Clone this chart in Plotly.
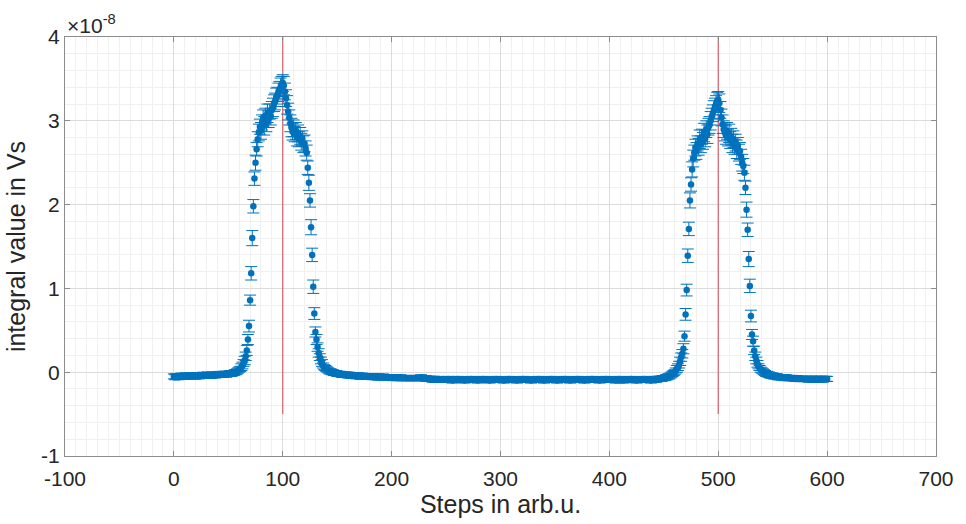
import plotly.graph_objects as go

# Measurement steps (arb.u.)
steps = list(range(0, 601))

# Integral value per step, in units of 1e-8 Vs (ten steps per row)
integral = [
    -0.05, -0.06, -0.05, -0.05, -0.06, -0.05, -0.05, -0.04, -0.05, -0.05,
    -0.05, -0.04, -0.05, -0.05, -0.04, -0.05, -0.04, -0.05, -0.04, -0.04,
    -0.05, -0.04, -0.04, -0.05, -0.04, -0.04, -0.04, -0.03, -0.04, -0.04,
    -0.04, -0.03, -0.04, -0.04, -0.03, -0.04, -0.03, -0.03, -0.04, -0.03,
    -0.03, -0.03, -0.03, -0.02, -0.03, -0.03, -0.02, -0.02, -0.03, -0.02,
    -0.02, -0.02, -0.01, -0.02, -0.01, -0.01, 0.00, 0.00, 0.01, 0.02,
    0.03, 0.04, 0.06, 0.08, 0.11, 0.14, 0.19, 0.26, 0.39, 0.55,
    0.86, 1.18, 1.60, 1.98, 2.31, 2.50, 2.66, 2.78, 2.86, 2.93,
    2.88, 2.98, 3.03, 2.94, 3.06, 2.97, 3.09, 3.02, 3.11, 3.05,
    3.13, 3.16, 3.21, 3.23, 3.28, 3.30, 3.34, 3.37, 3.40, 3.43,
    3.45, 3.42, 3.35, 3.27, 3.19, 3.11, 3.04, 2.97, 2.92, 2.87,
    2.91, 2.84, 2.88, 2.81, 2.85, 2.78, 2.82, 2.75, 2.79, 2.72,
    2.73, 2.67, 2.62, 2.44, 2.26, 2.05, 1.73, 1.40, 1.02, 0.70,
    0.48, 0.39, 0.30, 0.23, 0.18, 0.14, 0.11, 0.08, 0.06, 0.05,
    0.04, 0.03, 0.02, 0.01, 0.01, 0.00, 0.00, -0.01, -0.01, -0.01,
    -0.02, -0.02, -0.02, -0.02, -0.03, -0.03, -0.03, -0.03, -0.03, -0.03,
    -0.04, -0.03, -0.04, -0.04, -0.04, -0.04, -0.04, -0.04, -0.05, -0.04,
    -0.04, -0.05, -0.05, -0.04, -0.05, -0.05, -0.05, -0.05, -0.05, -0.05,
    -0.05, -0.05, -0.05, -0.06, -0.05, -0.05, -0.06, -0.05, -0.06, -0.06,
    -0.06, -0.06, -0.05, -0.06, -0.06, -0.06, -0.06, -0.06, -0.06, -0.06,
    -0.06, -0.07, -0.06, -0.06, -0.07, -0.06, -0.07, -0.07, -0.06, -0.07,
    -0.07, -0.07, -0.07, -0.07, -0.07, -0.07, -0.07, -0.07, -0.07, -0.07,
    -0.07, -0.07, -0.07, -0.07, -0.07, -0.07, -0.07, -0.06, -0.07, -0.07,
    -0.07, -0.07, -0.08, -0.08, -0.08, -0.08, -0.08, -0.08, -0.09, -0.08,
    -0.09, -0.09, -0.09, -0.08, -0.09, -0.09, -0.09, -0.09, -0.09, -0.09,
    -0.09, -0.09, -0.08, -0.09, -0.09, -0.09, -0.10, -0.09, -0.09, -0.09,
    -0.09, -0.08, -0.09, -0.09, -0.09, -0.09, -0.09, -0.10, -0.09, -0.09,
    -0.09, -0.09, -0.09, -0.08, -0.09, -0.09, -0.09, -0.09, -0.09, -0.10,
    -0.09, -0.09, -0.09, -0.09, -0.08, -0.09, -0.09, -0.09, -0.09, -0.09,
    -0.10, -0.09, -0.09, -0.09, -0.09, -0.09, -0.08, -0.09, -0.09, -0.09,
    -0.09, -0.09, -0.09, -0.10, -0.09, -0.09, -0.09, -0.09, -0.08, -0.09,
    -0.09, -0.09, -0.09, -0.09, -0.09, -0.10, -0.09, -0.09, -0.09, -0.09,
    -0.09, -0.08, -0.09, -0.09, -0.09, -0.09, -0.09, -0.09, -0.10, -0.09,
    -0.09, -0.09, -0.09, -0.09, -0.09, -0.08, -0.09, -0.09, -0.09, -0.09,
    -0.10, -0.09, -0.09, -0.09, -0.09, -0.09, -0.09, -0.08, -0.09, -0.09,
    -0.09, -0.09, -0.10, -0.09, -0.09, -0.09, -0.09, -0.09, -0.09, -0.08,
    -0.09, -0.09, -0.09, -0.09, -0.10, -0.09, -0.09, -0.09, -0.09, -0.09,
    -0.09, -0.08, -0.09, -0.09, -0.09, -0.09, -0.09, -0.10, -0.09, -0.09,
    -0.09, -0.09, -0.09, -0.09, -0.08, -0.09, -0.09, -0.09, -0.09, -0.09,
    -0.09, -0.10, -0.09, -0.09, -0.09, -0.09, -0.09, -0.08, -0.09, -0.09,
    -0.09, -0.09, -0.09, -0.09, -0.09, -0.09, -0.10, -0.09, -0.09, -0.08,
    -0.09, -0.09, -0.09, -0.10, -0.09, -0.09, -0.09, -0.09, -0.09, -0.09,
    -0.08, -0.09, -0.09, -0.09, -0.09, -0.10, -0.09, -0.09, -0.09, -0.09,
    -0.09, -0.09, -0.08, -0.09, -0.09, -0.09, -0.09, -0.09, -0.10, -0.09,
    -0.09, -0.09, -0.08, -0.09, -0.08, -0.08, -0.08, -0.08, -0.08, -0.07,
    -0.07, -0.07, -0.06, -0.06, -0.05, -0.05, -0.04, -0.03, -0.02, -0.01,
    0.00, 0.02, 0.04, 0.06, 0.09, 0.13, 0.18, 0.22, 0.28, 0.43,
    0.69, 0.98, 1.39, 1.71, 2.05, 2.24, 2.42, 2.55, 2.62, 2.68,
    2.64, 2.73, 2.69, 2.78, 2.72, 2.81, 2.76, 2.86, 2.79, 2.90,
    2.84, 2.93, 2.95, 3.00, 3.05, 3.09, 3.13, 3.17, 3.20, 3.23,
    3.25, 3.21, 3.13, 3.04, 2.96, 2.90, 2.86, 2.83, 2.88, 2.80,
    2.85, 2.77, 2.81, 2.73, 2.78, 2.69, 2.74, 2.66, 2.70, 2.62,
    2.64, 2.57, 2.50, 2.46, 2.38, 2.20, 1.94, 1.70, 1.35, 1.03,
    0.67, 0.45, 0.37, 0.26, 0.19, 0.14, 0.10, 0.07, 0.05, 0.03,
    0.02, 0.01, 0.00, -0.01, -0.02, -0.02, -0.03, -0.03, -0.04, -0.04,
    -0.04, -0.05, -0.05, -0.05, -0.05, -0.06, -0.06, -0.06, -0.06, -0.06,
    -0.06, -0.07, -0.06, -0.07, -0.07, -0.07, -0.07, -0.07, -0.07, -0.07,
    -0.07, -0.08, -0.07, -0.08, -0.08, -0.08, -0.08, -0.08, -0.08, -0.08,
    -0.08, -0.08, -0.08, -0.09, -0.08, -0.08, -0.08, -0.08, -0.09, -0.08,
    -0.08, -0.08, -0.09, -0.08, -0.08, -0.08, -0.09, -0.08, -0.08, -0.08,
    -0.08,
]

# Standard error of each integral value, in units of 1e-8 Vs (ten steps per row)
integral_err = [
    # steps 0-59
    0.03, 0.03, 0.03, 0.03, 0.03, 0.03, 0.03, 0.03, 0.03, 0.03,
    0.03, 0.03, 0.03, 0.03, 0.03, 0.03, 0.03, 0.03, 0.03, 0.03,
    0.03, 0.03, 0.03, 0.03, 0.03, 0.03, 0.03, 0.03, 0.03, 0.03,
    0.03, 0.03, 0.03, 0.03, 0.03, 0.03, 0.03, 0.03, 0.03, 0.03,
    0.03, 0.03, 0.03, 0.03, 0.03, 0.03, 0.03, 0.03, 0.03, 0.03,
    0.03, 0.03, 0.03, 0.03, 0.03, 0.03, 0.03, 0.03, 0.03, 0.03,
    # steps 60-139
    0.03, 0.03, 0.04, 0.04, 0.04, 0.05, 0.05, 0.06, 0.06, 0.07,
    0.06, 0.08, 0.09, 0.08, 0.08, 0.09, 0.08, 0.09, 0.10, 0.09,
    0.10, 0.09, 0.10, 0.11, 0.09, 0.10, 0.11, 0.10, 0.09, 0.10,
    0.10, 0.11, 0.10, 0.10, 0.11, 0.10, 0.11, 0.10, 0.11, 0.10,
    0.10, 0.11, 0.10, 0.10, 0.11, 0.10, 0.09, 0.10, 0.11, 0.10,
    0.10, 0.09, 0.10, 0.11, 0.10, 0.09, 0.10, 0.10, 0.09, 0.10,
    0.10, 0.09, 0.09, 0.08, 0.09, 0.08, 0.09, 0.08, 0.08, 0.07,
    0.06, 0.06, 0.05, 0.05, 0.04, 0.04, 0.04, 0.03, 0.03, 0.03,
    # steps 140-299
    0.03, 0.03, 0.03, 0.03, 0.03, 0.03, 0.03, 0.03, 0.03, 0.03,
    0.03, 0.03, 0.03, 0.03, 0.03, 0.03, 0.03, 0.03, 0.03, 0.03,
    0.03, 0.03, 0.03, 0.03, 0.03, 0.03, 0.03, 0.03, 0.03, 0.03,
    0.03, 0.03, 0.03, 0.03, 0.03, 0.03, 0.03, 0.03, 0.03, 0.03,
    0.03, 0.03, 0.03, 0.03, 0.03, 0.03, 0.03, 0.03, 0.03, 0.03,
    0.03, 0.03, 0.03, 0.03, 0.03, 0.03, 0.03, 0.03, 0.03, 0.03,
    0.03, 0.03, 0.03, 0.03, 0.03, 0.03, 0.03, 0.03, 0.03, 0.03,
    0.03, 0.03, 0.03, 0.03, 0.03, 0.03, 0.03, 0.03, 0.03, 0.03,
    0.03, 0.03, 0.03, 0.03, 0.03, 0.03, 0.03, 0.03, 0.03, 0.03,
    0.03, 0.03, 0.03, 0.03, 0.03, 0.03, 0.03, 0.03, 0.03, 0.03,
    0.03, 0.03, 0.03, 0.03, 0.03, 0.03, 0.03, 0.03, 0.03, 0.03,
    0.03, 0.03, 0.03, 0.03, 0.03, 0.03, 0.03, 0.03, 0.03, 0.03,
    0.03, 0.03, 0.03, 0.03, 0.03, 0.03, 0.03, 0.03, 0.03, 0.03,
    0.03, 0.03, 0.03, 0.03, 0.03, 0.03, 0.03, 0.03, 0.03, 0.03,
    0.03, 0.03, 0.03, 0.03, 0.03, 0.03, 0.03, 0.03, 0.03, 0.03,
    0.03, 0.03, 0.03, 0.03, 0.03, 0.03, 0.03, 0.03, 0.03, 0.03,
    # steps 300-459
    0.03, 0.03, 0.03, 0.03, 0.03, 0.03, 0.03, 0.03, 0.03, 0.03,
    0.03, 0.03, 0.03, 0.03, 0.03, 0.03, 0.03, 0.03, 0.03, 0.03,
    0.03, 0.03, 0.03, 0.03, 0.03, 0.03, 0.03, 0.03, 0.03, 0.03,
    0.03, 0.03, 0.03, 0.03, 0.03, 0.03, 0.03, 0.03, 0.03, 0.03,
    0.03, 0.03, 0.03, 0.03, 0.03, 0.03, 0.03, 0.03, 0.03, 0.03,
    0.03, 0.03, 0.03, 0.03, 0.03, 0.03, 0.03, 0.03, 0.03, 0.03,
    0.03, 0.03, 0.03, 0.03, 0.03, 0.03, 0.03, 0.03, 0.03, 0.03,
    0.03, 0.03, 0.03, 0.03, 0.03, 0.03, 0.03, 0.03, 0.03, 0.03,
    0.03, 0.03, 0.03, 0.03, 0.03, 0.03, 0.03, 0.03, 0.03, 0.03,
    0.03, 0.03, 0.03, 0.03, 0.03, 0.03, 0.03, 0.03, 0.03, 0.03,
    0.03, 0.03, 0.03, 0.03, 0.03, 0.03, 0.03, 0.03, 0.03, 0.03,
    0.03, 0.03, 0.03, 0.03, 0.03, 0.03, 0.03, 0.03, 0.03, 0.03,
    0.03, 0.03, 0.03, 0.03, 0.03, 0.03, 0.03, 0.03, 0.03, 0.03,
    0.03, 0.03, 0.03, 0.03, 0.03, 0.03, 0.03, 0.03, 0.03, 0.03,
    0.03, 0.03, 0.03, 0.03, 0.03, 0.03, 0.03, 0.03, 0.03, 0.03,
    0.03, 0.03, 0.03, 0.03, 0.03, 0.03, 0.03, 0.03, 0.03, 0.03,
    # steps 460-539
    0.03, 0.03, 0.04, 0.04, 0.04, 0.05, 0.05, 0.05, 0.06, 0.06,
    0.07, 0.07, 0.08, 0.08, 0.09, 0.08, 0.09, 0.10, 0.09, 0.10,
    0.10, 0.09, 0.10, 0.11, 0.10, 0.09, 0.10, 0.11, 0.10, 0.10,
    0.11, 0.10, 0.10, 0.11, 0.10, 0.10, 0.11, 0.10, 0.10, 0.11,
    0.10, 0.11, 0.10, 0.10, 0.11, 0.10, 0.10, 0.11, 0.10, 0.10,
    0.11, 0.10, 0.10, 0.11, 0.10, 0.09, 0.10, 0.11, 0.10, 0.10,
    0.10, 0.09, 0.10, 0.09, 0.09, 0.08, 0.09, 0.08, 0.09, 0.08,
    0.07, 0.06, 0.06, 0.05, 0.05, 0.04, 0.04, 0.03, 0.03, 0.03,
    # steps 540-600
    0.03, 0.03, 0.03, 0.03, 0.03, 0.03, 0.03, 0.03, 0.03, 0.03,
    0.03, 0.03, 0.03, 0.03, 0.03, 0.03, 0.03, 0.03, 0.03, 0.03,
    0.03, 0.03, 0.03, 0.03, 0.03, 0.03, 0.03, 0.03, 0.03, 0.03,
    0.03, 0.03, 0.03, 0.03, 0.03, 0.03, 0.03, 0.03, 0.03, 0.03,
    0.03, 0.03, 0.03, 0.03, 0.03, 0.03, 0.03, 0.03, 0.03, 0.03,
    0.03, 0.03, 0.03, 0.03, 0.03, 0.03, 0.03, 0.03, 0.03, 0.03,
    0.03,
]

assert len(integral) == len(steps) == len(integral_err)

# Reference positions marked by vertical lines
marker_steps = [100, 500]
marker_span = [-0.5, 4.0]

x_ticks = [-100, 0, 100, 200, 300, 400, 500, 600, 700]
x_tick_labels = ["-100", "0", "100", "200", "300", "400", "500", "600", "700"]
y_ticks = [-1, 0, 1, 2, 3, 4]
y_tick_labels = ["-1", "0", "1", "2", "3", "4"]

BLUE = "#0072BD"
RED = "#D9606A"
FONT = "Liberation Sans, Arial, sans-serif"
TEXT = "#262626"

fig = go.Figure()

for s in marker_steps:
    fig.add_trace(go.Scatter(
        x=[s, s], y=marker_span, mode="lines",
        line=dict(color=RED, width=1.2),
        showlegend=False, hoverinfo="skip",
    ))

fig.add_trace(go.Scatter(
    x=steps, y=integral, mode="markers",
    marker=dict(color=BLUE, size=6.5, line=dict(width=0)),
    error_y=dict(type="data", array=integral_err, visible=True,
                 color=BLUE, thickness=1, width=6),
    showlegend=False,
))

axis_common = dict(
    showline=True, linecolor="#8c8c8c", linewidth=1, mirror="ticks",
    ticks="inside", ticklen=5, tickcolor="#8c8c8c",
    showgrid=True, gridcolor="#dcdcdc", gridwidth=1,
    zeroline=False,
    tickfont=dict(family=FONT, size=21, color=TEXT),
)

fig.update_xaxes(
    range=[-100, 700], tickvals=x_ticks, ticktext=x_tick_labels,
    ticklabelstandoff=4,
    minor=dict(dtick=10, showgrid=True, gridcolor="#f0f0f0", gridwidth=1, ticks=""),
    title=dict(text="Steps in arb.u.", font=dict(family=FONT, size=25, color=TEXT),
               standoff=4),
    **axis_common,
)
fig.update_yaxes(
    range=[-1, 4], tickvals=y_ticks, ticktext=y_tick_labels,
    minor=dict(dtick=0.2, showgrid=True, gridcolor="#f0f0f0", gridwidth=1, ticks=""),
    title=dict(text="integral value in Vs", font=dict(family=FONT, size=25, color=TEXT),
               standoff=8),
    **axis_common,
)

fig.add_annotation(
    xref="paper", yref="paper", x=0.0, y=1.0, xanchor="left", yanchor="bottom",
    text="×10<sup>-8</sup>", showarrow=False,
    font=dict(family=FONT, size=21, color=TEXT), yshift=-2,
)

fig.update_layout(
    width=966, height=524,
    margin=dict(l=65, r=21, t=37, b=66),
    paper_bgcolor="white", plot_bgcolor="white",
)

fig.write_html("out.html")
